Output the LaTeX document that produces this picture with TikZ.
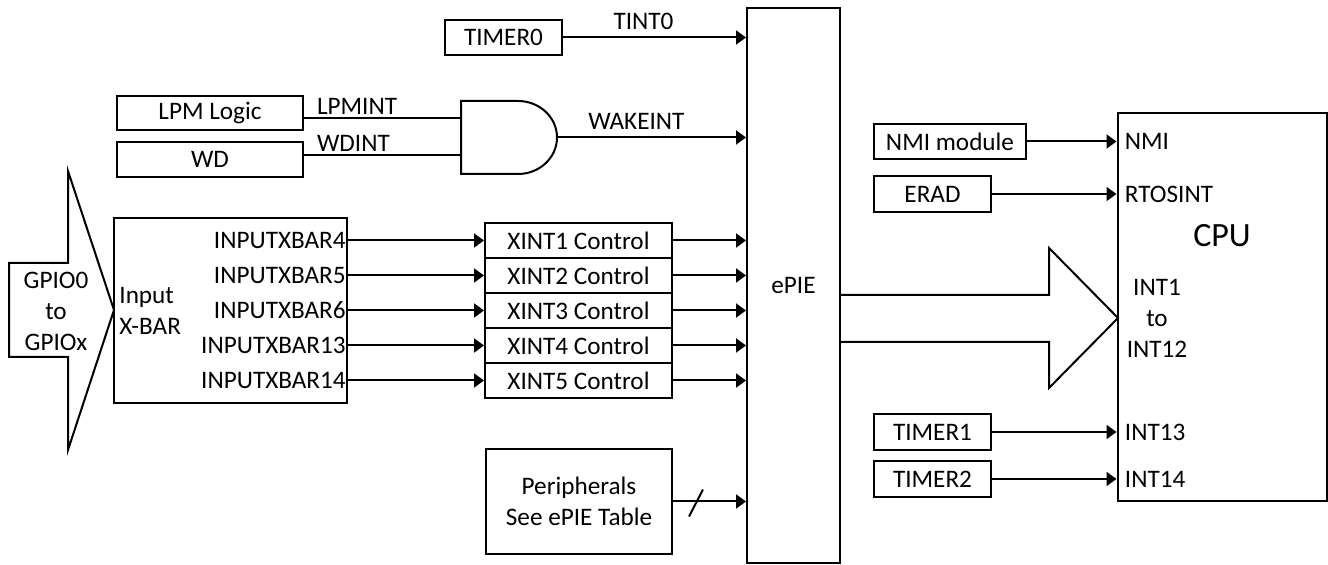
\documentclass[tikz,border=0pt]{standalone}
\usepackage{fontspec}
\setmainfont{Carlito}
\usetikzlibrary{arrows.meta}

\tikzset{
	blk/.style={draw, line width=1pt, inner sep=0pt, minimum height=17.5pt},
	wire/.style={line width=1pt},
	sig/.style={wire, -{Triangle[length=5pt,width=7pt]}},
}

\begin{document}
\begin{tikzpicture}[x=0.5pt, y=-0.5pt, font=\fontsize{12.6}{15.5}\selectfont]
		\useasboundingbox (0,0) rectangle (1328,565);

		\node[blk, minimum width=46.5pt, minimum height=277.5pt] (epie) at (793.5,285.5) {ePIE};
		\node[blk, minimum width=104.5pt, minimum height=194pt] (cpu) at (1222,307) {};
		\node[font=\fontsize{17}{20}\selectfont] (cpulbl) at (1222,236) {CPU};

		\node[blk, minimum width=58.5pt] (timer0) at (503.5,37.5) {TIMER0};
		\draw[sig] (timer0.east) -- node[pos=0.44, above] (tint0) {TINT0} (timer0.east -| epie.west);

		\node[blk, minimum width=93pt, minimum height=17pt] (lpm) at (210,113) {LPM Logic};
		\node[blk, minimum width=93pt] (wd) at (210,159.5) {WD};
		\draw[wire] (461,101) -- (518,101) arc[start angle=90, end angle=-90, x radius=19.5pt, y radius=18.25pt] -- (461,174) -- cycle;
		\coordinate (gin1) at (461,118);
		\coordinate (gin2) at (461,155);
		\coordinate (gout) at (557,137.5);
		\draw[wire] (lpm.east |- gin1) -- node[pos=0, anchor=south west, inner sep=1pt, xshift=5pt] (lpmint) {LPMINT} (gin1);
		\draw[wire] (wd.east |- gin2) -- node[pos=0, anchor=south west, inner sep=1pt, xshift=5pt] (wdint) {WDINT} (gin2);
		\draw[sig] (gout) -- node[pos=0.42, above] (wakeint) {WAKEINT} (gout -| epie.west);

		\draw[wire] (68,171) -- (114,310) -- (68,450) -- (68,357) -- (9,357) -- (9,263) -- (68,263) -- cycle;
		\node[align=center] (gpio) at (56,311) {GPIO0\\to\\GPIOx};

		\node[blk, minimum width=116.5pt, minimum height=92.5pt] (xbar) at (230.5,310.5) {};
		\node[anchor=west, align=left, inner sep=1pt, xshift=2pt] (xbarlbl) at (xbar.west) {Input\\X-BAR};

		\foreach \i/\n in {1/4,2/5,3/6,4/13,5/14}{
			\node[blk, minimum width=93.5pt] (xint\i) at (578.5,{205.5+35*\i}) {XINT\i{} Control};
			\node[anchor=east, inner sep=1pt] (xb\n) at (xbar.east |- xint\i) {INPUTXBAR\n};
			\draw[sig] (xbar.east |- xint\i) -- (xint\i.west);
			\draw[sig] (xint\i.east) -- (xint\i.east -| epie.west);
		}

		\node[blk, minimum width=93pt, minimum height=52.5pt, align=center] (periph) at (579,501.5) {Peripherals\\See ePIE Table};
		\draw[sig] (periph.east) -- (periph.east -| epie.west);
		\draw[wire] ([xshift=8pt,yshift=-7.5pt]periph.east) -- ([xshift=15pt,yshift=6pt]periph.east);

		\node[blk, minimum width=76pt] (nmi) at (950,141.5) {NMI module};
		\node[blk, minimum width=58.5pt, minimum height=18pt] (erad) at (932.5,194) {ERAD};
		\node[blk, minimum width=58.5pt, minimum height=18pt] (timer1) at (932.5,432) {TIMER1};
		\node[blk, minimum width=58.5pt, minimum height=18pt] (timer2) at (932.5,479) {TIMER2};
		\foreach \src/\port in {nmi/NMI, erad/RTOSINT, timer1/INT13, timer2/INT14}{
			\draw[sig] (\src.east) -- (\src.east -| cpu.west);
			\node[anchor=west, inner sep=1pt, xshift=3pt] (in\src) at (\src.east -| cpu.west) {\port};
		}

		\draw[wire] (840,295) -- (1049,295) -- (1049,248) -- (1118,318) -- (1049,388) -- (1049,342) -- (840,342);
		\node[align=center] (intgrp) at (1157,318) {INT1\\to\\INT12};
	\end{tikzpicture}
\end{document}
